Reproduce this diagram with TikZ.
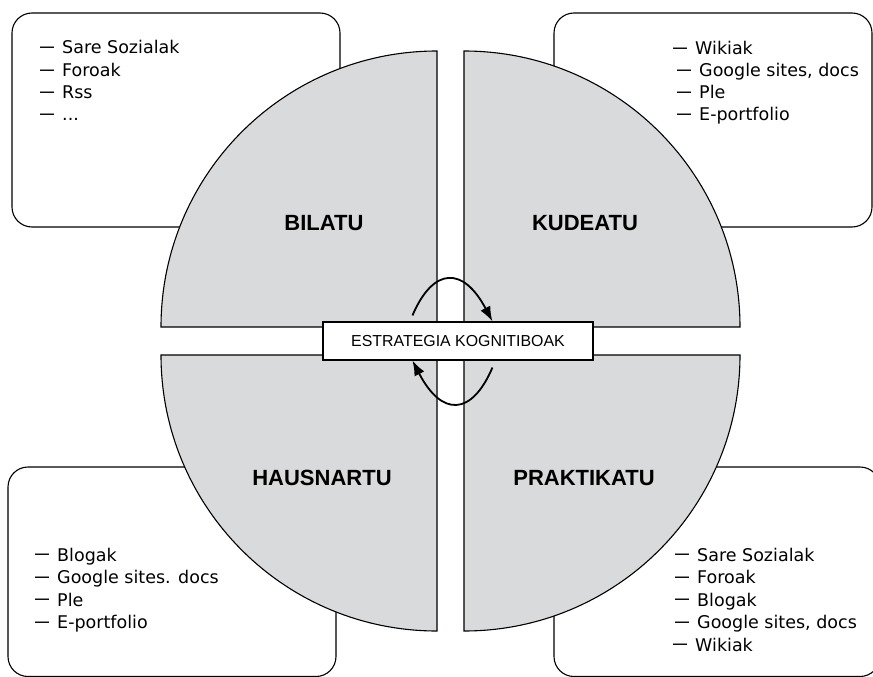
\documentclass[tikz,border=0pt]{standalone}
\usepackage{fontspec}
\setmainfont{DejaVu Sans}
\newfontfamily\libsans{Liberation Sans}
\usetikzlibrary{arrows.meta,calc}
\definecolor{sectorgray}{RGB}{217,218,220}
\tikzset{
  sector/.style={fill=sectorgray,draw=black,line width=1.1pt,line join=miter},
  listbox/.style={draw=black,line width=1.1pt,rounded corners=20pt},
  item/.style={anchor=base west,inner sep=0pt,font=\fontsize{17.5pt}{21pt}\selectfont},
  title/.style={anchor=base,inner sep=0pt,font=\libsans\bfseries\fontsize{22pt}{26pt}\selectfont},
  centerbox/.style={draw=black,fill=white,line width=1.1pt,minimum width=270pt,minimum height=38pt,inner sep=0pt,font=\libsans\fontsize{15.9pt}{18pt}\selectfont},
  looparrow/.style={line width=1.8pt,-{Latex[length=15pt,width=11pt]}}
}
\newcommand{\dsh}{\raisebox{2.2pt}{\libsans\bfseries\fontsize{14pt}{14pt}\selectfont —}\hspace{8pt}}
\begin{document}
\begin{tikzpicture}[x=1pt,y=-1pt]
\clip (0,0) rectangle (873,677);
% list boxes (behind the sectors)
\draw[listbox] (12,13) rectangle (340,227);
\draw[listbox] (554,13) rectangle (872,227);
\draw[listbox] (8,467) rectangle (336,676.5);
\draw[listbox] (554,467) rectangle (880,676.5);
% sectors
\draw[sector] (437,327) -- ++(-276,0) arc[start angle=180,end angle=270,radius=276] -- cycle;
\draw[sector] (464,327) -- ++(0,-276) arc[start angle=270,end angle=360,radius=276] -- cycle;
\draw[sector] (464,355) -- ++(276,0) arc[start angle=0,end angle=90,radius=276] -- cycle;
\draw[sector] (437,355) -- ++(0,276) arc[start angle=90,end angle=180,radius=276] -- cycle;
% top-left list
\node[item] (tl1) at (40,54) {\dsh Sare Sozialak};
\node[item] (tl2) at (40,76.5) {\dsh Foroak};
\node[item] (tl3) at (40,99) {\dsh Rss};
\node[item] (tl4) at (40,121) {\dsh ...};
% top-right list
\node[item] (tr1) at (673,55) {\dsh Wikiak};
\node[item] (tr2) at (677,77) {\dsh Google sites, docs};
\node[item] (tr3) at (677,99) {\dsh Ple};
\node[item] (tr4) at (677,121) {\dsh E-portfolio};
% bottom-left list
\node[item] (bl1) at (35,561) {\dsh Blogak};
\node[item] (bl2) at (35,583.5) {\dsh Google sites. docs};
\node[item] (bl3) at (35,606) {\dsh Ple};
\node[item] (bl4) at (35,628.5) {\dsh E-portfolio};
% bottom-right list
\node[item] (br1) at (675,561) {\dsh Sare Sozialak};
\node[item] (br2) at (675,583.5) {\dsh Foroak};
\node[item] (br3) at (675,606) {\dsh Blogak};
\node[item] (br4) at (675,628.5) {\dsh Google sites, docs};
\node[item] (br5) at (673,651) {\dsh Wikiak};
% titles
\node[title] (bilatu) at (324,230) {BILATU};
\node[title] (kudeatu) at (585,230) {KUDEATU};
\node[title] (hausnartu) at (322,485) {HAUSNARTU};
\node[title] (praktikatu) at (584,485) {PRAKTIKATU};
% center box
\node[centerbox] (ek) at (458,341) {ESTRATEGIA KOGNITIBOAK};
% loop arrows
\coordinate (t0) at ($(ek.north west)+(90,-6)$);
\coordinate (t1) at ($(ek.north west)+(170,0)$);
\coordinate (b0) at ($(ek.south west)+(170,7)$);
\coordinate (b1) at ($(ek.south west)+(90,0)$);
\draw[looparrow] (t0) .. controls +(21,-49) and +(-29,-55) .. (t1);
\draw[looparrow] (b0) .. controls +(-21,49) and +(29,56) .. (b1);
\end{tikzpicture}
\end{document}
